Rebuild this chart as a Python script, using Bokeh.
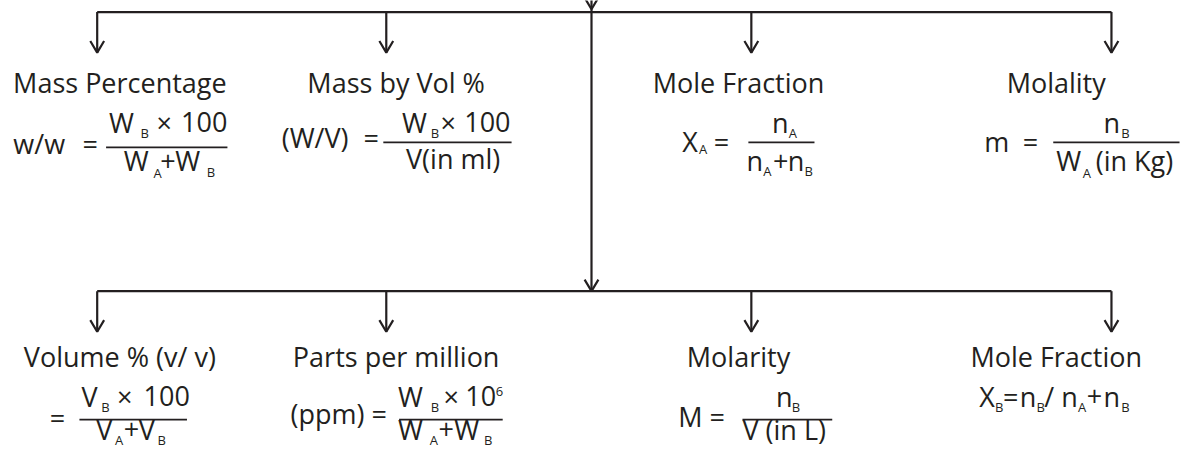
from bokeh.plotting import figure
from bokeh.models import Range1d, ColumnDataSource
from bokeh.embed import file_html
from bokeh.resources import INLINE
from bokeh.core.properties import value

FONT = "Open Sans"
INK = "#231f20"
MAIN = "27px"
SMALL = "13px"
# baseline correction for rendered text
MAIN_DY = -11
SMALL_DY = -5

# ---- content (texts) ----
top_titles = ["Mass Percentage", "Mass by Vol %", "Mole Fraction", "Molality"]
bottom_titles = ["Volume % (v/ v)", "Parts per million", "Molarity", "Mole Fraction"]

# main-size formula runs
main_text = [
    # w/w
    "w/w", "=", "W", "\u00d7", "100", "W", "+", "W",
    # W/V
    "(W/V)", "=", "W", "\u00d7", "100", "V(in ml)",
    # X_A
    "X", "=", "n", "n", "+", "n",
    # m
    "m", "=", "n", "W", "(in Kg)",
    # v/v
    "=", "V", "\u00d7", "100", "V", "+", "V",
    # ppm
    "(ppm) =", "W", "\u00d7", "10", "W", "+", "W",
    # M
    "M =", "n", "V (in L)",
    # X_B
    "X", "=", "n", "/", "n", "+", "n",
]
# small (subscript / superscript) runs
small_text = [
    "B", "A", "B",
    "B",
    "A", "A", "A", "B",
    "B", "A",
    "B", "A", "B",
    "B", "6", "A", "B",
    "B",
    "B", "B", "A", "B",
]

# ---- layout ----
R1N, R1D = 137, 177      # row-1 numerator / denominator baselines
R2N, R2D = 421, 455      # row-2 numerator / denominator baselines
main_x = [13, 83, 110, 158, 183, 125, 162, 177,
          285, 368, 407, 446, 470, 411,
          691, 723, 782, 756, 783, 798,
          997, 1036, 1118, 1070, 1110,
          50, 82, 118, 145, 97, 125, 140,
          294, 403, 449, 471, 403, 444, 460,
          687, 786, 752,
          992, 1016, 1033, 1058, 1075, 1101, 1118]
main_y = [159, 159, R1N, R1N, R1N, R1D, R1D, R1D,
          153, 153, R1N, R1N, R1N, 175,
          157, 157, R1N, R1D, R1D, R1D,
          157, 157, R1N, R1D, R1D,
          R2N + 22, R2N, R2N, R2N, R2D, R2D, R2D,
          R2N + 18, R2N, R2N, R2N, R2D, R2D, R2D,
          R2N + 21, R2N, R2D,
          R2N, R2N, R2N, R2N, R2N, R2N, R2N]
small_x = [142, 155, 209,
           436,
           708, 799, 773, 815,
           1136, 1097,
           102, 116, 159,
           436, 502, 435, 490,
           802,
           1008, 1050, 1092, 1136]
small_y = [142, 184, 183,
           142,
           159, 142, 182, 182,
           142, 184,
           R2N + 5, R2D + 5, R2D + 5,
           R2N + 5, R2N - 11, R2D + 5, R2D + 5,
           R2N + 5,
           R2N + 5, R2N + 5, R2N + 5, R2N + 5]

title_x = [121, 401, 748, 1070]
top_title_y = 96
bottom_title_y = 380

bar_x0 = [107, 388, 758, 1067, 80, 404, 752]
bar_x1 = [230, 518, 825, 1195, 189, 509, 843]
bar_y = [152, 147, 147, 147, 434, 434, 434]

branch_x = [98, 391, 761, 1126]
top_rail_y = 12
bottom_rail_y = 301
stem_x = 599
drop = 42
head_w = 7
head_h = 12

p = figure(width=1182, height=451, x_range=Range1d(0, 1198), y_range=Range1d(467, 0),
           output_backend="svg", toolbar_location=None, min_border=0,
           x_axis_type=None, y_axis_type=None, background_fill_color="white")
p.grid.visible = False
p.outline_line_color = None

# lines
xs, ys = [], []
for ry in (top_rail_y, bottom_rail_y):
    xs.append([branch_x[0], branch_x[-1]]); ys.append([ry, ry])
    for bx in branch_x:
        tip = ry + drop
        xs.append([bx, bx]); ys.append([ry, tip])
        xs.append([bx - head_w, bx, bx + head_w]); ys.append([tip - head_h, tip, tip - head_h])
# central stem
xs.append([stem_x, stem_x]); ys.append([-20, bottom_rail_y])
for tip in (top_rail_y - 3, bottom_rail_y):
    xs.append([stem_x - head_w, stem_x, stem_x + head_w]); ys.append([tip - head_h, tip, tip - head_h])
p.multi_line(xs=xs, ys=ys, line_color=INK, line_width=2.2)

# fraction bars
p.segment(x0=bar_x0, x1=bar_x1, y0=bar_y, y1=bar_y, line_color=INK, line_width=1.8)

# titles
ty = [top_title_y + MAIN_DY] * 4 + [bottom_title_y + MAIN_DY] * 4
tsrc = ColumnDataSource(dict(x=title_x * 2, y=ty, t=top_titles + bottom_titles))
p.text(x="x", y="y", text="t", source=tsrc, text_font=value(FONT), text_font_size=MAIN,
       text_color=INK, text_align="center", text_baseline="alphabetic")

msrc = ColumnDataSource(dict(x=main_x, y=[v + MAIN_DY for v in main_y], t=main_text))
p.text(x="x", y="y", text="t", source=msrc, text_font=value(FONT), text_font_size=MAIN,
       text_color=INK, text_align="left", text_baseline="alphabetic")

ssrc = ColumnDataSource(dict(x=small_x, y=[v + SMALL_DY for v in small_y], t=small_text))
p.text(x="x", y="y", text="t", source=ssrc, text_font=value(FONT), text_font_size=SMALL,
       text_color=INK, text_align="left", text_baseline="alphabetic")

open("out.html", "w").write(file_html(p, INLINE))
